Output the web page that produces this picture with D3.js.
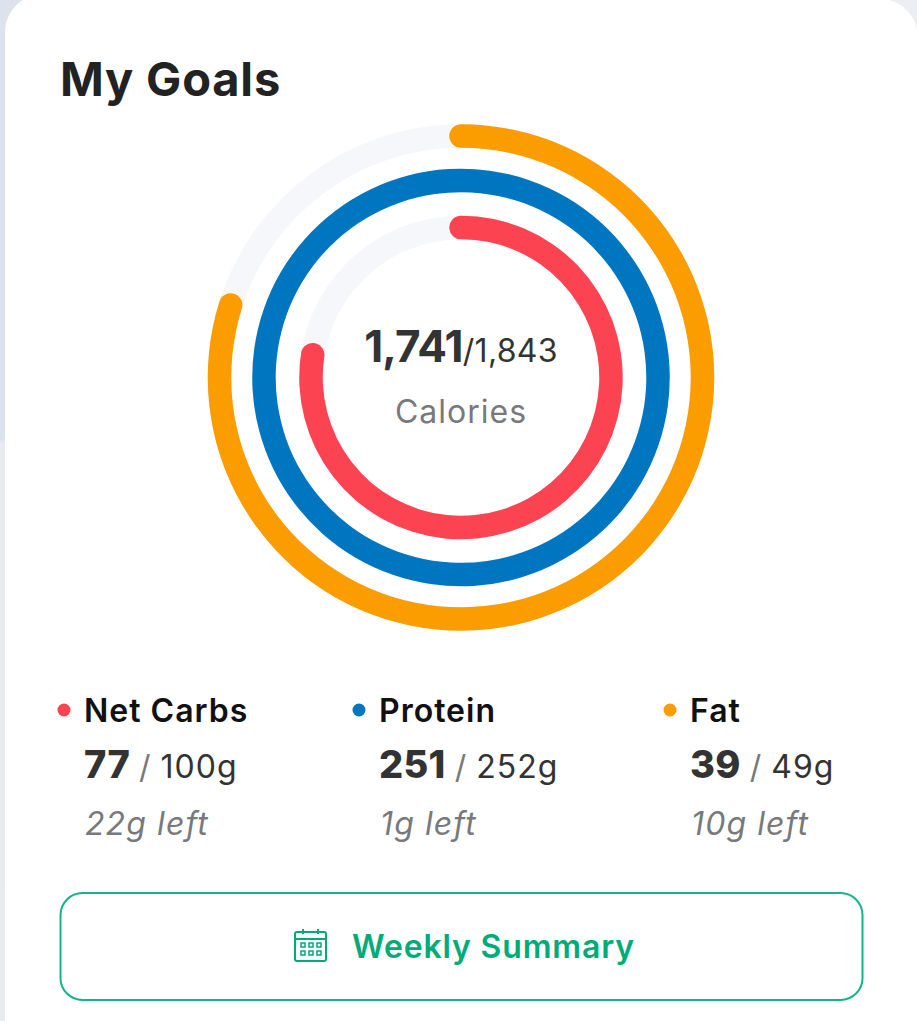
<!DOCTYPE html>
<html><head><meta charset="utf-8">
<script src="https://cdn.jsdelivr.net/npm/d3@7"></script>
<style>html,body{margin:0;padding:0;background:#fff;overflow:hidden}svg{display:block}text{font-family:Inter,sans-serif}</style>
</head><body><svg id="c" width="917" height="1021"></svg>
<script>
const nutrients = ["Net Carbs", "Protein", "Fat"];
const consumed = [77, 251, 39];
const goals = [100, 252, 49];
const remaining = ["22g left", "1g left", "10g left"];
const colors = ["#fc4352", "#0076c0", "#fb9c00"];
const caloriesNow = "1,741";
const caloriesGoal = "/1,843";
const ringRadius = [150, 197, 241.5];
const columnX = [84, 379, 690];

const svg = d3.select("#c");
const defs = svg.append("defs");
const lg = defs.append("linearGradient").attr("id","side").attr("x1",0).attr("x2",0).attr("y1",0).attr("y2",1);
lg.append("stop").attr("offset","0%").attr("stop-color","#dce3ec");
lg.append("stop").attr("offset","43%").attr("stop-color","#dce3ec");
lg.append("stop").attr("offset","43.5%").attr("stop-color","#e8eaf0");
lg.append("stop").attr("offset","100%").attr("stop-color","#e9ebf1");
svg.append("rect").attr("width",917).attr("height",1021).attr("fill","url(#side)");
svg.append("rect").attr("x",5).attr("y",-6).attr("width",950).attr("height",1080).attr("rx",38).attr("fill","#fff");
svg.append("path").attr("d","M889 0A38 38 0 0 1 917 30V0Z").attr("fill","#eceef3");

const cx = 461, cy = 377.5, width = 23.5;
const angle = d3.scaleLinear().domain([0,1]).range([0,2*Math.PI]);
const g = svg.append("g").attr("transform",`translate(${cx},${cy})`);
const arc = r => d3.arc().innerRadius(r-width/2).outerRadius(r+width/2).cornerRadius(width/2);
const cap = r => (width/2)/r;
const overrun = r => 4/r;

ringRadius.forEach((r,i)=>{
  g.append("path").attr("d",arc(r)({startAngle:0,endAngle:2*Math.PI})).attr("fill","#f5f7fa");
});
nutrients.forEach((n,i)=>{
  const r = ringRadius[i];
  g.append("path").attr("d",arc(r)({startAngle:-cap(r),endAngle:angle(consumed[i]/goals[i])+cap(r)+overrun(r)})).attr("fill",colors[i]);
});

svg.append("text").attr("x",60).attr("y",96).attr("font-size",47).attr("font-weight",700).attr("letter-spacing",0.8).attr("fill","#222").text("My Goals");

const mid = svg.append("text").attr("x",461).attr("y",362).attr("text-anchor","middle").attr("fill","#333");
mid.append("tspan").attr("font-size",44).attr("font-weight",700).attr("letter-spacing",-0.8).text(caloriesNow);
mid.append("tspan").attr("font-size",32).attr("font-weight",400).attr("letter-spacing",0.3).text(caloriesGoal);
svg.append("text").attr("x",461).attr("y",423).attr("text-anchor","middle").attr("font-size",32).attr("letter-spacing",1).attr("fill","#77797c").text("Calories");

nutrients.forEach((n,i)=>{
  const x = columnX[i];
  svg.append("circle").attr("cx",x-20).attr("cy",710).attr("r",6.5).attr("fill",colors[i]);
  svg.append("text").attr("x",x).attr("y",722).attr("font-size",32).attr("font-weight",600).attr("letter-spacing",1).attr("fill","#111").text(n);
  const t = svg.append("text").attr("x",x).attr("y",778).attr("fill","#333");
  t.append("tspan").attr("font-size",38).attr("font-weight",800).attr("letter-spacing",0.3).text(consumed[i]);
  t.append("tspan").attr("font-size",32).attr("dx",9).attr("fill","#77797c").text("/");
  t.append("tspan").attr("font-size",32).attr("dx",10).attr("letter-spacing",1).text(goals[i]+"g");
  svg.append("text").attr("x",x+1).attr("y",835).attr("font-size",32).attr("font-style","italic").attr("letter-spacing",1.1).attr("fill","#77797c").text(remaining[i]);
});

const green = "#00ab78";
svg.append("rect").attr("x",60.5).attr("y",893).attr("width",802).attr("height",107).attr("rx",22).attr("fill","#fff").attr("stroke","#14b48a").attr("stroke-width",2);
const ic = svg.append("g").attr("fill","none").attr("stroke",green).attr("stroke-width",2);
ic.append("rect").attr("x",295).attr("y",932).attr("width",31).attr("height",29).attr("rx",2);
ic.append("path").attr("d","M295 939H326M303 929V934M318 929V934");
d3.cross([0,1,2],[0,1]).forEach(([a,b])=>{
  ic.append("rect").attr("x",301+a*8).attr("y",943+b*8).attr("width",4).attr("height",4).attr("stroke-width",1.5);
});
svg.append("text").attr("x",352).attr("y",958).attr("font-size",32).attr("font-weight",600).attr("letter-spacing",0.85).attr("fill",green).text("Weekly Summary");
</script></body></html>
